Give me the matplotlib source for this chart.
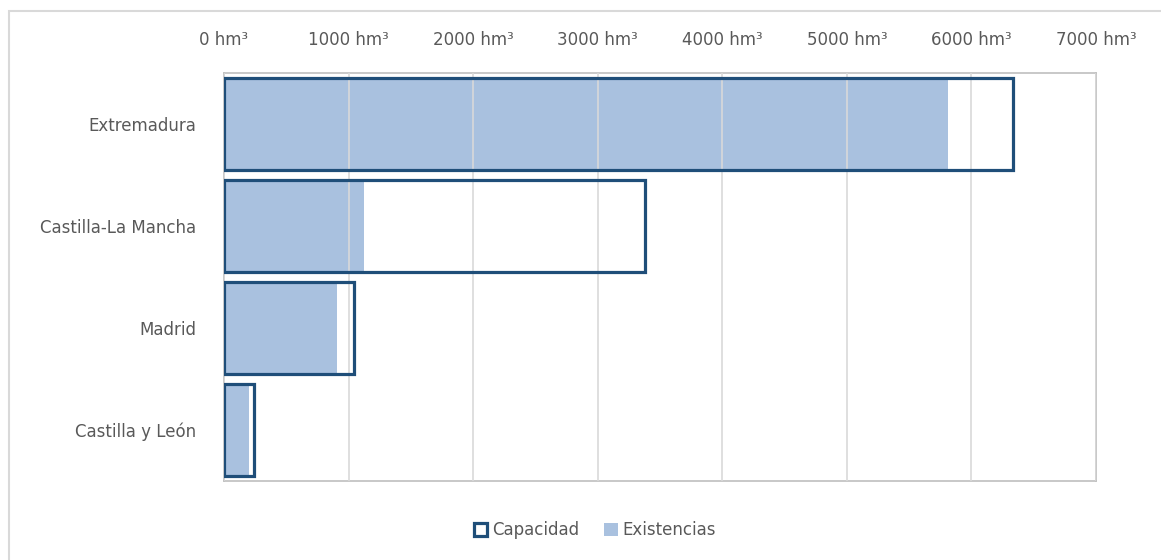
import matplotlib
matplotlib.use("Agg")
import matplotlib.pyplot as plt
from matplotlib.patches import Rectangle, Patch

regions = ["Extremadura", "Castilla-La Mancha", "Madrid", "Castilla y León"]
capacidad = [6330, 3380, 1045, 241]
existencias = [5810, 1125, 908, 198]
xticks = [0, 1000, 2000, 3000, 4000, 5000, 6000, 7000]
xticklabels = [f"{v} hm³" for v in xticks]

text_color = "#595959"
dark_blue = "#1F4E79"
light_blue = "#A9C1DF"
grid_color = "#D9D9D9"

W, H = 1161, 560
fig = plt.figure(figsize=(W / 100, H / 100), dpi=100)
ax = fig.add_axes([224 / W, 1 - 481 / H, (1096 - 224) / W, (481 - 73) / H])

y = list(range(len(regions)))
ax.barh(y, existencias, height=0.9, color=light_blue, zorder=2)
ax.barh(y, capacidad, height=0.9, facecolor="none", edgecolor=dark_blue,
        linewidth=2.3, zorder=4)

ax.set_xlim(0, 7000)
ax.set_ylim(3.5, -0.5)
ax.set_xticks(xticks)
ax.set_xticklabels(xticklabels)
ax.xaxis.tick_top()
ax.tick_params(axis="x", length=0, pad=17, labelsize=12, labelcolor=text_color)
ax.set_yticks(y)
ax.set_yticklabels(regions)
ax.tick_params(axis="y", length=0, pad=20, labelsize=12, labelcolor=text_color)
ax.xaxis.grid(True, color=grid_color, linewidth=1.2, zorder=3)
ax.set_axisbelow(False)
for s in ax.spines.values():
    s.set_color("#BFBFBF")
    s.set_linewidth(1.2)

handles = [Patch(facecolor="white", edgecolor=dark_blue, linewidth=2.3, label="Capacidad"),
           Patch(facecolor=light_blue, edgecolor="none", label="Existencias")]
fig.legend(handles=handles, loc="center", bbox_to_anchor=(595 / W, 1 - 530 / H),
           ncol=2, frameon=False, fontsize=12, labelcolor=text_color,
           handlelength=0.8, handleheight=0.8, handletextpad=0.3, columnspacing=1.5)

fig.patches.append(Rectangle((9 / W, -0.1), 1.2, 1 - 11 / H + 0.1, transform=fig.transFigure,
                             facecolor="none", edgecolor="#D9D9D9", linewidth=1.5))

fig.savefig("out.png", dpi=100)
